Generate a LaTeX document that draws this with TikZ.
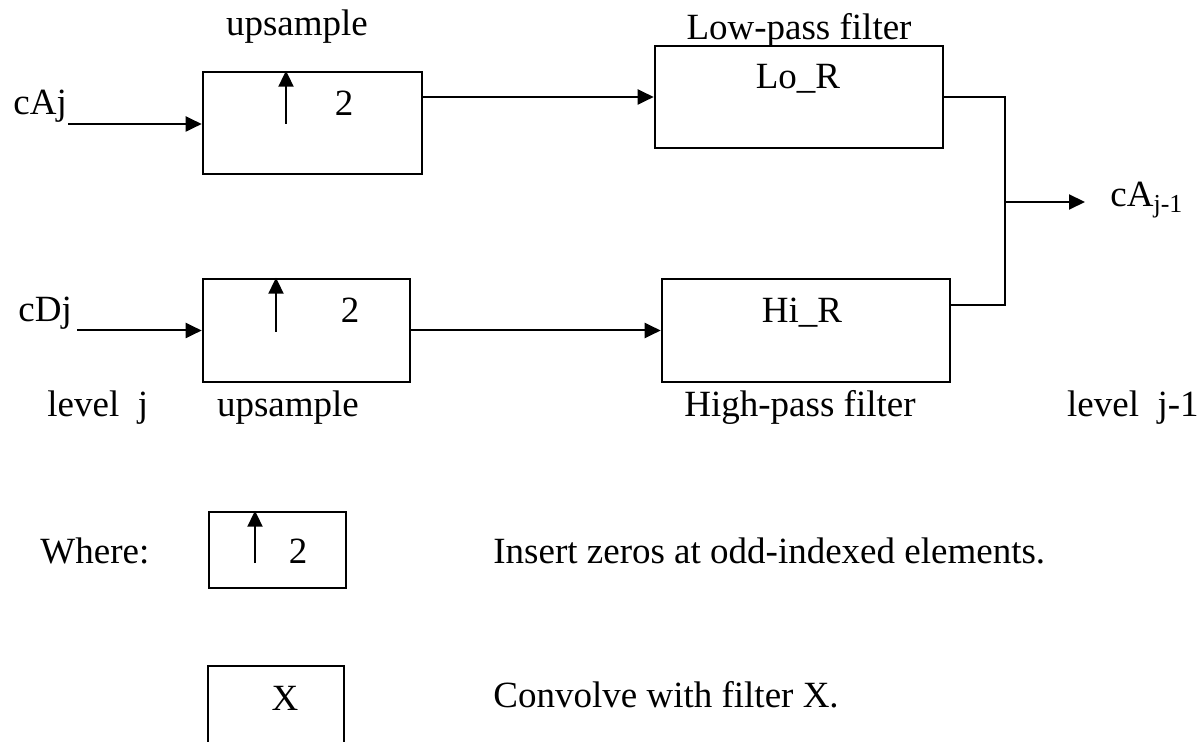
\documentclass[tikz,border=0pt]{standalone}
\usepackage{fontspec}
\setmainfont{Liberation Serif}
\usetikzlibrary{arrows.meta}

\tikzset{
  blk/.style={draw, line width=1.3pt, inner sep=0pt},
  wire/.style={line width=1pt},
  sig/.style={wire, -{Triangle[length=8pt, width=7.5pt]}},
  txt/.style={inner sep=0pt, anchor=base},
}

\begin{document}
\begin{tikzpicture}[x=0.5pt, y=-0.5pt, font=\fontsize{18.5}{22}\selectfont]
  \useasboundingbox (0,0) rectangle (1204,742);
  % Blocks (centres in pixel units)
  \node[blk, minimum width=109.5pt, minimum height=51pt]   (upA) at (312.5,123) {};
  \node[blk, minimum width=103.5pt, minimum height=51.5pt] (upD) at (306.5,330.5) {};
  \node[blk, minimum width=144pt, minimum height=51pt]     (loR) at (799,97) {};
  \node[blk, minimum width=144pt, minimum height=51.5pt]   (hiR) at (806,330.5) {};
  % Legend blocks
  \node[blk, minimum width=68.5pt, minimum height=38pt] (legUp) at (277.5,550) {};
  \node[blk, minimum width=68pt, minimum height=40pt]   (legX)  at (276,706) {};
  % Texts
  \node[txt] (upTop)  at (297,36)  {upsample};
  \node[txt] (loTop)  at (799,40)  {Low-pass filter};
  \node[txt, anchor=base west] (cAj) at (13,115) {cAj};
  \node[txt, anchor=base west] (cDj) at (18,322) {cDj};
  \node[txt] (twoA)   at (344,116) {2};
  \node[txt] (twoD)   at (350,323) {2};
  \node[txt] (loTxt)  at (798,89)  {Lo\_R};
  \node[txt] (hiTxt)  at (802,323) {Hi\_R};
  \node[txt, anchor=base west] (lvlJ) at (47,417) {level~~j};
  \node[txt] (upBot)  at (288,417) {upsample};
  \node[txt] (hiBot)  at (800,417) {High-pass filter};
  \node[txt, anchor=base east] (lvlJm) at (1199,417) {level~~j-1};
  \node[txt, anchor=base west] (where) at (40,563) {Where:};
  \node[txt] (twoL)   at (298,563) {2};
  \node[txt] (xL)     at (285,710) {X};
  \node[txt, anchor=base west] (insTxt) at (493,563) {Insert zeros at odd-indexed elements.};
  \node[txt, anchor=base west] (convTxt) at (493,707) {Convolve with filter X.};
  % Inputs
  \coordinate (inA) at (68,124);
  \coordinate (inD) at (77,330.5);
  \draw[sig] (inA) -- (inA -| upA.west);
  \draw[sig] (inD) -- (upD.west);
  % Upsample marks
  \draw[sig] (286,124) -- (286,0 |- upA.north);
  \draw[sig] (276,332) -- (276,0 |- upD.north);
  \draw[sig] (255,563) -- (255,0 |- legUp.north);
  % Filters
  \draw[sig] (upA.east |- loR.west) -- (loR.west);
  \draw[sig] (upD.east) -- (hiR.west);
  % Merge to output
  \coordinate (jn) at (1005,202);
  \coordinate (outEnd) at (1085,202);
  \draw[wire] (loR.east) -| (jn);
  \draw[wire] (hiR.east |- 0,305) -| (jn);
  \draw[sig] (jn) -- (outEnd);
  \node[txt, anchor=base west] (cAout) at (1110,207) {cA\textsubscript{j-1}};
\end{tikzpicture}
\end{document}
